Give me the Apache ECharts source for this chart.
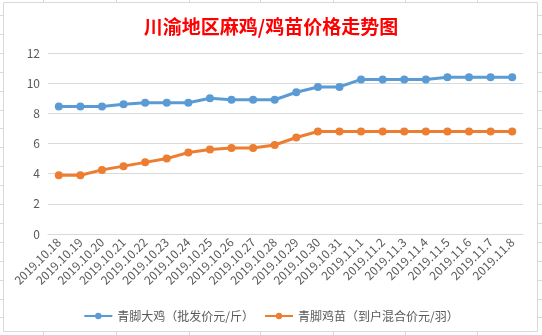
<!DOCTYPE html>
<html>
<head>
<meta charset="utf-8">
<script src="https://cdn.jsdelivr.net/npm/echarts@6/dist/echarts.min.js"></script>
<style>
html,body{margin:0;padding:0;background:#fff;}
#main{width:542px;height:335px;}
</style>
</head>
<body>
<div id="main"></div>
<script>
var titleText = '川渝地区麻鸡/鸡苗价格走势图';
var categories = ['2019.10.18','2019.10.19','2019.10.20','2019.10.21','2019.10.22','2019.10.23','2019.10.24','2019.10.25','2019.10.26','2019.10.27','2019.10.28','2019.10.29','2019.10.30','2019.10.31','2019.11.1','2019.11.2','2019.11.3','2019.11.4','2019.11.5','2019.11.6','2019.11.7','2019.11.8'];
var seriesNames = ['青脚大鸡（批发价元/斤）','青脚鸡苗（到户混合价元/羽）'];
var bigChicken = [8.45,8.45,8.45,8.6,8.7,8.7,8.7,9.0,8.9,8.9,8.9,9.4,9.75,9.75,10.25,10.25,10.25,10.25,10.4,10.4,10.4,10.4];
var chick = [3.9,3.9,4.25,4.5,4.75,5.0,5.4,5.6,5.7,5.7,5.9,6.4,6.8,6.8,6.8,6.8,6.8,6.8,6.8,6.8,6.8,6.8];
var yTicks = {min:0, max:12, interval:2};

var chart = echarts.init(document.getElementById('main'));
var font = '"Noto Sans CJK SC", "Noto Sans", sans-serif';

// spreadsheet background decoration
var deco = [];
[43,116,189,260,333,405,477].forEach(function(x){
  deco.push({type:'line', shape:{x1:x+0.5,y1:0,x2:x+0.5,y2:3}, style:{stroke:'#d9d9d9',lineWidth:1}});
  deco.push({type:'line', shape:{x1:x+0.5,y1:332,x2:x+0.5,y2:335}, style:{stroke:'#d9d9d9',lineWidth:1}});
});
for (var k=0;k<17;k++){
  var yy = Math.round(15 + k*18.9)+0.5;
  deco.push({type:'line', shape:{x1:0,y1:yy,x2:3,y2:yy}, style:{stroke:'#d9d9d9',lineWidth:1}});
  deco.push({type:'line', shape:{x1:538,y1:yy,x2:542,y2:yy}, style:{stroke:'#d9d9d9',lineWidth:1}});
}
deco.push({type:'rect', shape:{x:3.5,y:2.5,width:534,height:329}, style:{fill:'none',stroke:'#d9d9d9',lineWidth:1}, z:-1});

chart.setOption({
  backgroundColor:'#fff',
  animation:false,
  title:{text:titleText,left:'center',top:12,textStyle:{color:'#ff0000',fontSize:19,fontWeight:'bold',fontFamily:font}},
  legend:{bottom:8,left:'center',itemWidth:28,itemHeight:8,itemGap:10,
    textStyle:{color:'#595959',fontSize:12,fontFamily:font},
    data:seriesNames},
  grid:{left:48,right:19,top:53,bottom:101},
  xAxis:{type:'category',data:categories,boundaryGap:true,
    axisLine:{lineStyle:{color:'#d9d9d9'}},axisTick:{show:false},
    axisLabel:{rotate:45,color:'#595959',fontSize:12,fontFamily:font,margin:6,interval:0}},
  yAxis:{type:'value',min:yTicks.min,max:yTicks.max,interval:yTicks.interval,
    axisLine:{show:false},axisTick:{show:false},
    axisLabel:{color:'#595959',fontSize:12,fontFamily:font,margin:8},
    splitLine:{lineStyle:{color:'#d9d9d9'}}},
  graphic:deco,
  series:[
    {name:seriesNames[0],type:'line',data:bigChicken,symbol:'circle',symbolSize:8,
     lineStyle:{width:3,color:'#5b9bd5'},itemStyle:{color:'#5b9bd5'}},
    {name:seriesNames[1],type:'line',data:chick,symbol:'circle',symbolSize:8,
     lineStyle:{width:3,color:'#ed7d31'},itemStyle:{color:'#ed7d31'}}
  ]
});
</script>
</body>
</html>
